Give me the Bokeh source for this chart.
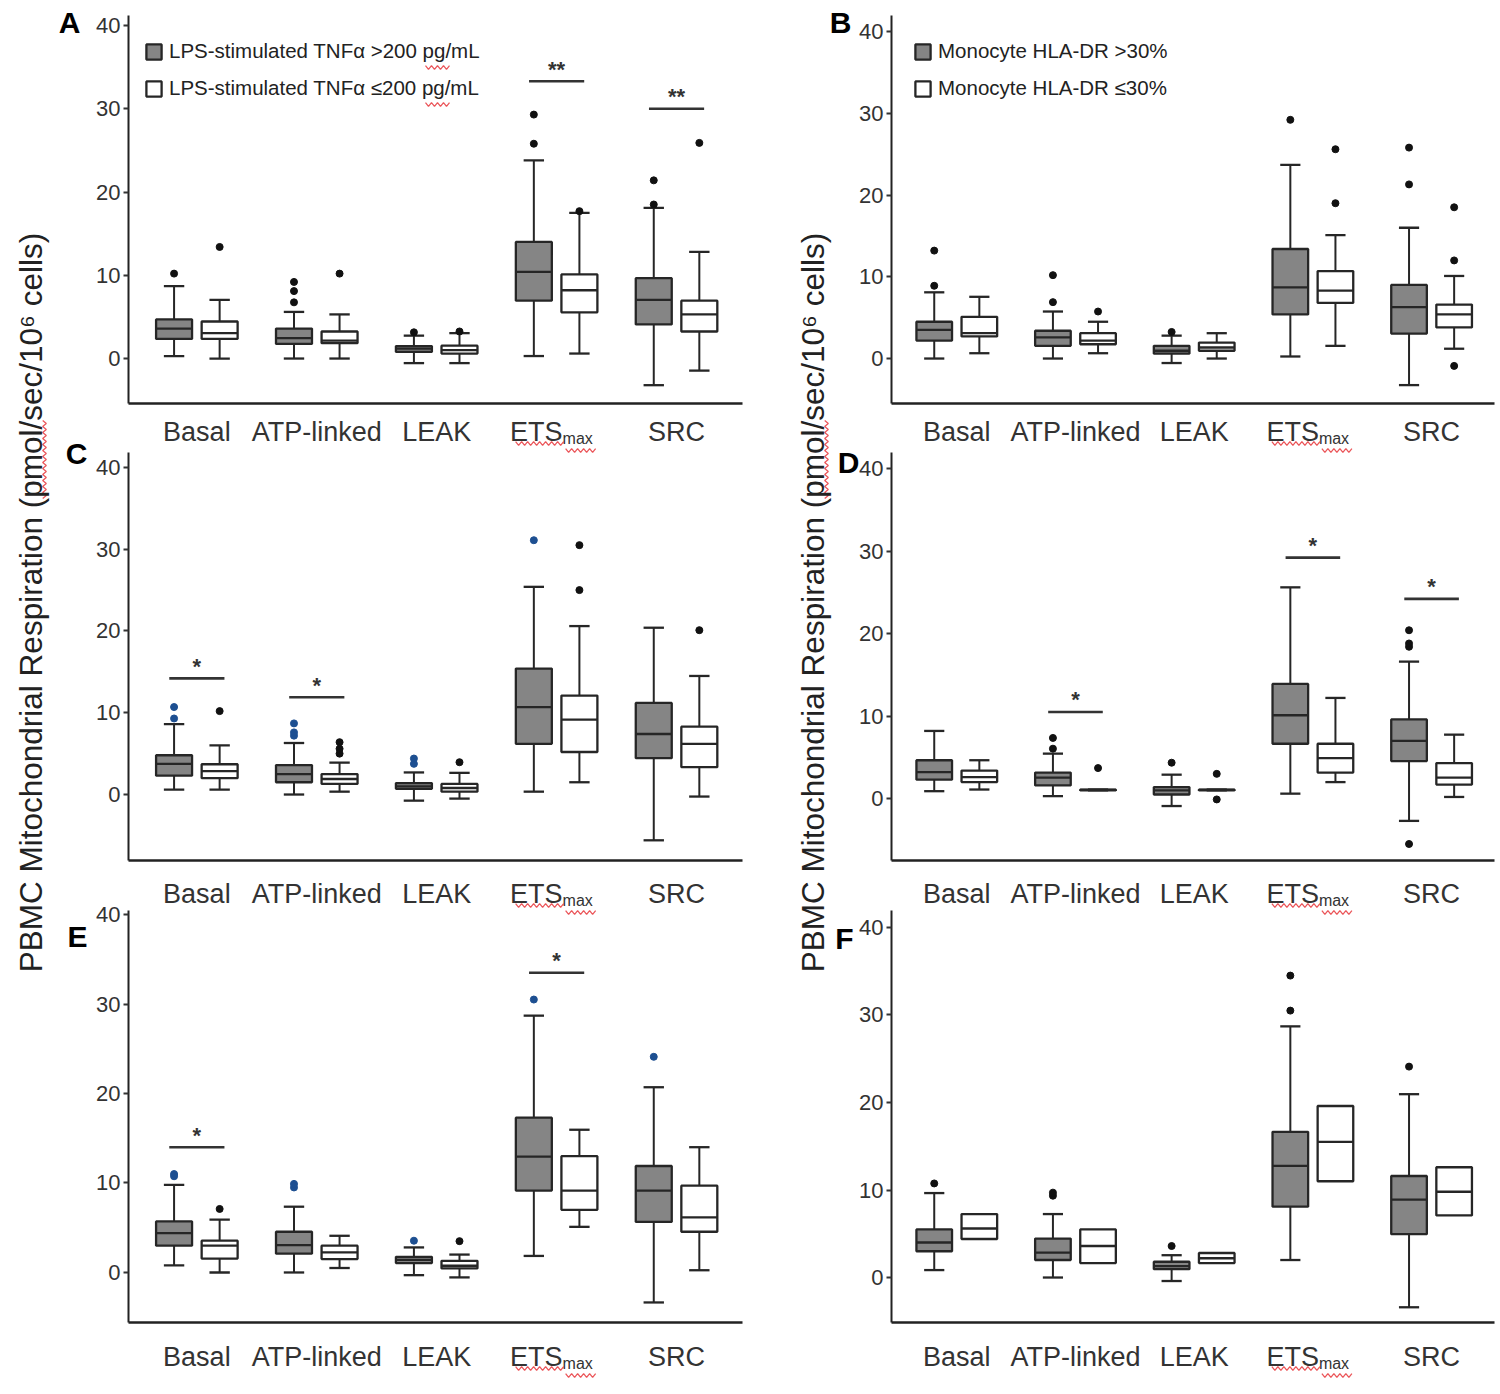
import math
from bokeh.plotting import figure
from bokeh.models import (ColumnDataSource, FixedTicker, Legend, LegendItem, LinearAxis, Range1d)
from bokeh.core.properties import value
from bokeh.embed import file_html
from bokeh.resources import INLINE

# ---------------- data ----------------
CATEGORIES = ["Basal", "ATP-linked", "LEAK", "ETS", "SRC"]
Y_TICKS = [0, 10, 20, 30, 40]
Y_TITLE = "PBMC Mitochondrial Respiration (pmol/sec/10\u2076 cells)"

# each row: [lower whisker, Q1, median, Q3, upper whisker] for Basal, ATP-linked, LEAK, ETSmax, SRC
A_GRAY = [[0.3, 2.35, 3.6, 4.7, 8.7], [0.0, 1.75, 2.45, 3.6, 5.6], [-0.55, 0.8, 1.2, 1.5, 2.75],
          [0.3, 6.95, 10.4, 14.0, 23.8], [-3.2, 4.1, 7.05, 9.65, 18.1]]
A_GRAY_OUT = [[10.2], [6.75, 8.1, 9.2], [3.15], [25.8, 29.3], [18.5, 21.4]]
A_WHITE = [[0.0, 2.35, 3.05, 4.45, 7.05], [0.0, 1.85, 2.15, 3.25, 5.3], [-0.55, 0.6, 1.0, 1.55, 3.05],
           [0.6, 5.55, 8.2, 10.1, 17.5], [-1.45, 3.25, 5.3, 6.95, 12.8]]
A_WHITE_OUT = [[13.4], [10.2], [3.25], [17.7], [25.9]]
A_SIG_CAT = ["ETS", "SRC"]
A_SIG_Y = [33.3, 30.0]
A_SIG_TXT = ["**", "**"]
A_LEGEND = ["LPS-stimulated TNF\u03b1 >200 pg/mL", "LPS-stimulated TNF\u03b1 \u2264200 pg/mL"]

B_GRAY = [[0.0, 2.2, 3.5, 4.5, 8.1], [0.0, 1.55, 2.6, 3.4, 5.75], [-0.55, 0.6, 0.95, 1.55, 2.8],
          [0.25, 5.4, 8.7, 13.4, 23.7], [-3.25, 3.05, 6.3, 9.0, 16.0]]
B_GRAY_OUT = [[8.9, 13.2], [6.9, 10.2], [3.25], [29.2], [21.3, 25.8]]
B_WHITE = [[0.65, 2.7, 3.1, 5.1, 7.55], [0.65, 1.75, 2.2, 3.1, 4.5], [0.0, 0.95, 1.35, 1.95, 3.1],
           [1.55, 6.8, 8.3, 10.7, 15.1], [1.2, 3.8, 5.4, 6.6, 10.1]]
B_WHITE_OUT = [[], [5.75], [], [19.0, 25.6], [-0.9, 12.0, 18.5]]
B_SIG_CAT = []
B_SIG_Y = []
B_SIG_TXT = []
B_LEGEND = ["Monocyte HLA-DR >30%", "Monocyte HLA-DR \u226430%"]

C_GRAY = [[0.6, 2.3, 3.75, 4.8, 8.6], [0.0, 1.5, 2.5, 3.6, 6.3], [-0.75, 0.7, 1.0, 1.4, 2.7],
          [0.35, 6.2, 10.7, 15.4, 25.4], [-5.6, 4.45, 7.4, 11.2, 20.4]]
C_GRAY_OUT = [[9.3, 10.7], [7.2, 7.6, 8.7], [3.75, 4.4], [31.1], []]
C_WHITE = [[0.6, 2.0, 2.85, 3.7, 6.0], [0.35, 1.3, 1.9, 2.5, 3.9], [-0.5, 0.35, 0.8, 1.3, 2.65],
           [1.5, 5.2, 9.15, 12.1, 20.6], [-0.25, 3.35, 6.2, 8.3, 14.5]]
C_WHITE_OUT = [[10.2], [5.0, 5.6, 6.4], [3.95], [25.0, 30.5], [20.1]]
C_SIG_CAT = ["Basal", "ATP-linked"]
C_SIG_Y = [14.2, 11.9]
C_SIG_TXT = ["*", "*"]

D_GRAY = [[0.9, 2.3, 3.2, 4.65, 8.2], [0.3, 1.6, 2.55, 3.15, 5.45], [-0.9, 0.5, 1.0, 1.4, 2.9],
          [0.6, 6.65, 10.1, 13.9, 25.6], [-2.7, 4.55, 7.0, 9.6, 16.6]]
D_GRAY_OUT = [[], [6.05, 7.35], [4.35], [], [-5.5, 18.4, 18.8, 20.4]]
D_WHITE = [[1.1, 2.0, 2.6, 3.4, 4.65], [1.0, 1.0, 1.05, 1.1, 1.1], [1.0, 1.0, 1.05, 1.1, 1.1],
           [2.0, 3.15, 4.9, 6.65, 12.2], [0.2, 1.7, 2.55, 4.3, 7.75]]
D_WHITE_OUT = [[], [3.7], [-0.1, 3.0], [], []]
D_SIG_CAT = ["ATP-linked", "ETS", "SRC"]
D_SIG_Y = [10.5, 29.2, 24.2]
D_SIG_TXT = ["*", "*", "*"]

E_GRAY = [[0.8, 3.0, 4.4, 5.7, 9.8], [0.0, 2.1, 3.05, 4.55, 7.35], [-0.3, 1.05, 1.4, 1.75, 2.8],
          [1.85, 9.15, 12.95, 17.3, 28.7], [-3.35, 5.65, 9.15, 11.9, 20.7]]
E_GRAY_OUT = [[10.75, 11.0], [9.5, 9.9], [3.55], [30.5], [24.1]]
E_WHITE = [[0.0, 1.55, 3.0, 3.55, 5.9], [0.5, 1.5, 2.25, 3.0, 4.1], [-0.55, 0.45, 0.75, 1.3, 2.0],
           [5.1, 7.0, 9.15, 13.0, 15.95], [0.25, 4.55, 6.15, 9.7, 14.0]]
E_WHITE_OUT = [[7.1], [], [3.5], [], []]
E_SIG_CAT = ["Basal", "ETS"]
E_SIG_Y = [14.0, 33.5]
E_SIG_TXT = ["*", "*"]

F_GRAY = [[0.85, 3.0, 4.0, 5.5, 9.65], [0.0, 2.0, 2.85, 4.45, 7.25], [-0.4, 0.95, 1.3, 1.8, 2.55],
          [2.0, 8.1, 12.75, 16.65, 28.7], [-3.4, 4.95, 8.9, 11.6, 20.95]]
F_GRAY_OUT = [[10.75], [9.35, 9.7], [3.6], [30.5, 34.5], [24.1]]
F_WHITE = [[None, 4.4, 5.6, 7.25, None], [None, 1.65, 3.6, 5.5, None], [None, 1.65, 2.2, 2.8, None],
           [None, 11.0, 15.5, 19.6, None], [None, 7.1, 9.8, 12.6, None]]
F_WHITE_OUT = [[], [], [], [], []]
F_SIG_CAT = []
F_SIG_Y = []
F_SIG_TXT = []

# ---------------- style / layout ----------------
W, H = 1496, 1390
FONT = "Liberation Sans"
GRAY_FILL = "#858585"
LINE = "#262626"
TXT = "#333333"
BLUE_OUT = "#1d4f91"
SQUIGGLE = "#e8383d"
DODGE = 0.19
BOX_W = 0.30
CAP_W = 0.085

# page-pixel geometry of each panel's axis box and the x values at its left/right edges
LEFT = dict(fl=128, fr=742, x0=0.43, x1=5.55)
RIGHT = dict(fl=891, fr=1494, x0=0.45, x1=5.53)
# axis box top/bottom and centre line of category names
ROW1 = dict(ft=15, fb=403, lab=431)
ROW2 = dict(ft=452, fb=860, lab=893)
ROW3 = dict(ft=910, fb=1322, lab=1356)

PANELS = [
    dict(key="A", letter_xy=(69, 22), col=LEFT, row=ROW1, yr=(-5.4, 41.2),
         gray=A_GRAY, gray_out=A_GRAY_OUT, white=A_WHITE, white_out=A_WHITE_OUT,
         sig=(A_SIG_CAT, A_SIG_Y, A_SIG_TXT), out_col="#111111", legend=A_LEGEND, legend_xy=(144, 35)),
    dict(key="B", letter_xy=(840, 22), col=RIGHT, row=ROW1, yr=(-5.5, 41.96),
         gray=B_GRAY, gray_out=B_GRAY_OUT, white=B_WHITE, white_out=B_WHITE_OUT,
         sig=(B_SIG_CAT, B_SIG_Y, B_SIG_TXT), out_col="#111111", legend=B_LEGEND, legend_xy=(913, 35)),
    dict(key="C", letter_xy=(76, 453), col=LEFT, row=ROW2, yr=(-8.07, 41.83),
         gray=C_GRAY, gray_out=C_GRAY_OUT, white=C_WHITE, white_out=C_WHITE_OUT,
         sig=(C_SIG_CAT, C_SIG_Y, C_SIG_TXT), out_col=BLUE_OUT, legend=None, legend_xy=None),
    dict(key="D", letter_xy=(848, 462), col=RIGHT, row=ROW2, yr=(-7.5, 41.94),
         gray=D_GRAY, gray_out=D_GRAY_OUT, white=D_WHITE, white_out=D_WHITE_OUT,
         sig=(D_SIG_CAT, D_SIG_Y, D_SIG_TXT), out_col="#111111", legend=None, legend_xy=None),
    dict(key="E", letter_xy=(77, 936), col=LEFT, row=ROW3, yr=(-5.59, 40.45),
         gray=E_GRAY, gray_out=E_GRAY_OUT, white=E_WHITE, white_out=E_WHITE_OUT,
         sig=(E_SIG_CAT, E_SIG_Y, E_SIG_TXT), out_col=BLUE_OUT, legend=None, legend_xy=None),
    dict(key="F", letter_xy=(844, 938), col=RIGHT, row=ROW3, yr=(-5.14, 41.94),
         gray=F_GRAY, gray_out=F_GRAY_OUT, white=F_WHITE, white_out=F_WHITE_OUT,
         sig=(F_SIG_CAT, F_SIG_Y, F_SIG_TXT), out_col="#111111", legend=None, legend_xy=None),
]


def wavy(a, b, c, vertical=False, amp=1.8, step=3.0):
    """zig-zag spell-check underline in page pixels, returned in canvas coordinates"""
    n = int(abs(b - a) / step)
    t = [a + i * step for i in range(n + 1)]
    w = [c + (amp if i % 2 else -amp) for i in range(n + 1)]
    if vertical:
        return w, [H - v for v in t]
    return t, [H - v for v in w]


p = figure(width=W, height=H, x_range=Range1d(0, W), y_range=Range1d(0, H),
           x_axis_type=None, y_axis_type=None, min_border=0,
           output_backend="svg", toolbar_location=None)
p.grid.visible = False
p.outline_line_color = None

# one pair of ranges per panel, spanning the whole canvas
xr_map, yr_map = {}, {}
for P in PANELS:
    col, rw = P["col"], P["row"]
    y0, y1 = P["yr"]
    kx = (col["x1"] - col["x0"]) / (col["fr"] - col["fl"])
    ky = (y1 - y0) / (rw["fb"] - rw["ft"])
    P["kx"], P["ky"] = kx, ky
    xr_map["x" + P["key"]] = Range1d(col["x0"] - col["fl"] * kx, col["x0"] + (W - col["fl"]) * kx)
    yr_map["y" + P["key"]] = Range1d(y1 - (H - rw["ft"]) * ky, y1 + rw["ft"] * ky)
p.extra_x_ranges = xr_map
p.extra_y_ranges = yr_map

sq_x, sq_y = [], []

for P in PANELS:
    col, rw = P["col"], P["row"]
    y0, y1 = P["yr"]
    kx, ky = P["kx"], P["ky"]
    rn = dict(x_range_name="x" + P["key"], y_range_name="y" + P["key"])

    def px2x(px):
        return col["x0"] + (px - col["fl"]) * kx

    def py2y(py):
        return y1 - (py - rw["ft"]) * ky

    renderers = []
    for stats, outs, fill, off, ocol in [(P["gray"], P["gray_out"], GRAY_FILL, -DODGE, P["out_col"]),
                                          (P["white"], P["white_out"], "white", DODGE, "#111111")]:
        xs = [i + 1 + off for i in range(len(CATEGORIES))]
        col_ = lambda k: [float("nan") if s[k] is None else s[k] for s in stats]
        src = ColumnDataSource(dict(
            x=xs, low=col_(0), q1=col_(1), med=col_(2), q3=col_(3), high=col_(4),
            xl=[x - BOX_W / 2 for x in xs], xr=[x + BOX_W / 2 for x in xs],
            cl=[x - CAP_W for x in xs], cr=[x + CAP_W for x in xs]))
        p.segment(x0="x", y0="q3", x1="x", y1="high", source=src, line_color=LINE, line_width=2, **rn)
        p.segment(x0="x", y0="low", x1="x", y1="q1", source=src, line_color=LINE, line_width=2, **rn)
        p.segment(x0="cl", y0="high", x1="cr", y1="high", source=src, line_color=LINE, line_width=2.3, **rn)
        p.segment(x0="cl", y0="low", x1="cr", y1="low", source=src, line_color=LINE, line_width=2.3, **rn)
        r = p.vbar(x="x", width=BOX_W, bottom="q1", top="q3", source=src,
                   fill_color=fill, line_color=LINE, line_width=2.3, **rn)
        renderers.append(r)
        p.segment(x0="xl", y0="med", x1="xr", y1="med", source=src, line_color=LINE, line_width=2.3, **rn)
        ox, oy = [], []
        for i, vals in enumerate(outs):
            for v in vals:
                ox.append(xs[i])
                oy.append(v)
        p.scatter(x=ox, y=oy, size=7, fill_color=ocol, line_color=ocol, **rn)

    # significance bars
    sig_cat, sig_y, sig_txt = P["sig"]
    if sig_cat:
        ci = [CATEGORIES.index(c) + 1 for c in sig_cat]
        p.segment(x0=[c - 0.23 for c in ci], y0=sig_y, x1=[c + 0.23 for c in ci], y1=sig_y,
                  line_color=TXT, line_width=2.6, **rn)
        p.text(x=ci, y=[v + 12 * ky for v in sig_y], text=sig_txt, text_align="center",
               text_baseline="middle", text_font=value(FONT), text_font_style="bold",
               text_font_size="22px", text_color=TXT, **rn)

    # axes
    xl, xrt = col["x0"], col["x1"]
    ya = LinearAxis(fixed_location=xl, bounds=(y0, y1), ticker=FixedTicker(ticks=Y_TICKS), **rn)
    ya.minor_tick_line_color = None
    ya.major_tick_in = 0
    ya.major_tick_out = 5
    ya.major_tick_line_width = 2
    ya.major_tick_line_color = TXT
    ya.axis_line_width = 2
    ya.axis_line_color = "#222222"
    ya.major_label_text_font = FONT
    ya.major_label_text_font_size = "22px"
    ya.major_label_text_color = TXT
    ya.major_label_standoff = 3
    p.add_layout(ya, "left")
    xa = LinearAxis(fixed_location=y0, bounds=(xl, xrt), ticker=FixedTicker(ticks=[]), **rn)
    xa.minor_tick_line_color = None
    xa.major_tick_line_color = None
    xa.axis_line_width = 2.6
    xa.axis_line_color = "#222222"
    p.add_layout(xa, "below")

    # category names
    ly = py2y(rw["lab"])
    names = [c for c in CATEGORIES if c != "ETS"]
    p.text(x=[CATEGORIES.index(c) + 1 for c in names], y=[ly] * len(names), text=names,
           text_align="center", text_baseline="middle", text_font=value(FONT),
           text_font_size="27px", text_color=TXT, **rn)
    e = CATEGORIES.index("ETS") + 1
    p.text(x=[e + 6 * kx], y=[ly], text=["ETS"], text_align="right", text_baseline="middle",
           text_font=value(FONT), text_font_size="27px", text_color=TXT, **rn)
    p.text(x=[e + 6 * kx], y=[ly - 7 * ky], text=["max"], text_align="left", text_baseline="middle",
           text_font=value(FONT), text_font_size="16px", text_color=TXT, **rn)
    # spell-check squiggle under ETSmax (as in the reference screenshot)
    ex = col["fl"] + (e - col["x0"]) / kx
    for a, b, c in [(ex - 41, ex + 9, rw["lab"] + 12), (ex + 9, ex + 40, rw["lab"] + 19)]:
        wx, wy = wavy(a, b, c)
        sq_x.append(wx)
        sq_y.append(wy)

    # panel letter
    p.text(x=[px2x(P["letter_xy"][0])], y=[py2y(P["letter_xy"][1])], text=[P["key"]],
           text_align="center", text_baseline="middle", text_font=value(FONT),
           text_font_style="bold", text_font_size="30px", text_color="black", **rn)

    if P["legend"]:
        lx, ltop = P["legend_xy"]
        lg = Legend(items=[LegendItem(label=P["legend"][0], renderers=[renderers[0]]),
                           LegendItem(label=P["legend"][1], renderers=[renderers[1]])],
                    location=(lx, H - ltop - 69), margin=0, padding=0, spacing=5,
                    glyph_width=19, glyph_height=19, label_height=32, label_standoff=6,
                    label_text_font=FONT, label_text_font_size="20.5px",
                    label_text_color="#222222", border_line_color=None,
                    background_fill_alpha=0)
        p.add_layout(lg)

# squiggles under "pg" in legend A and under "pmol" in the two axis titles
for a, b, c, v in [(425, 449, 67, False), (425, 449, 104, False),
                   (420, 498, 44, True), (420, 498, 826, True)]:
    wx, wy = wavy(a, b, c, vertical=v)
    sq_x.append(wx)
    sq_y.append(wy)
p.multi_line(xs=sq_x, ys=sq_y, line_color=SQUIGGLE, line_width=1.3, line_alpha=0.85)

# shared y-axis titles
p.text(x=[30, 812], y=[H - 602, H - 602], text=[Y_TITLE, Y_TITLE], angle=math.pi / 2,
       text_align="center", text_baseline="middle", text_font=value(FONT),
       text_font_size="31.5px", text_color="#222222")

open("out.html", "w").write(file_html(p, INLINE))
